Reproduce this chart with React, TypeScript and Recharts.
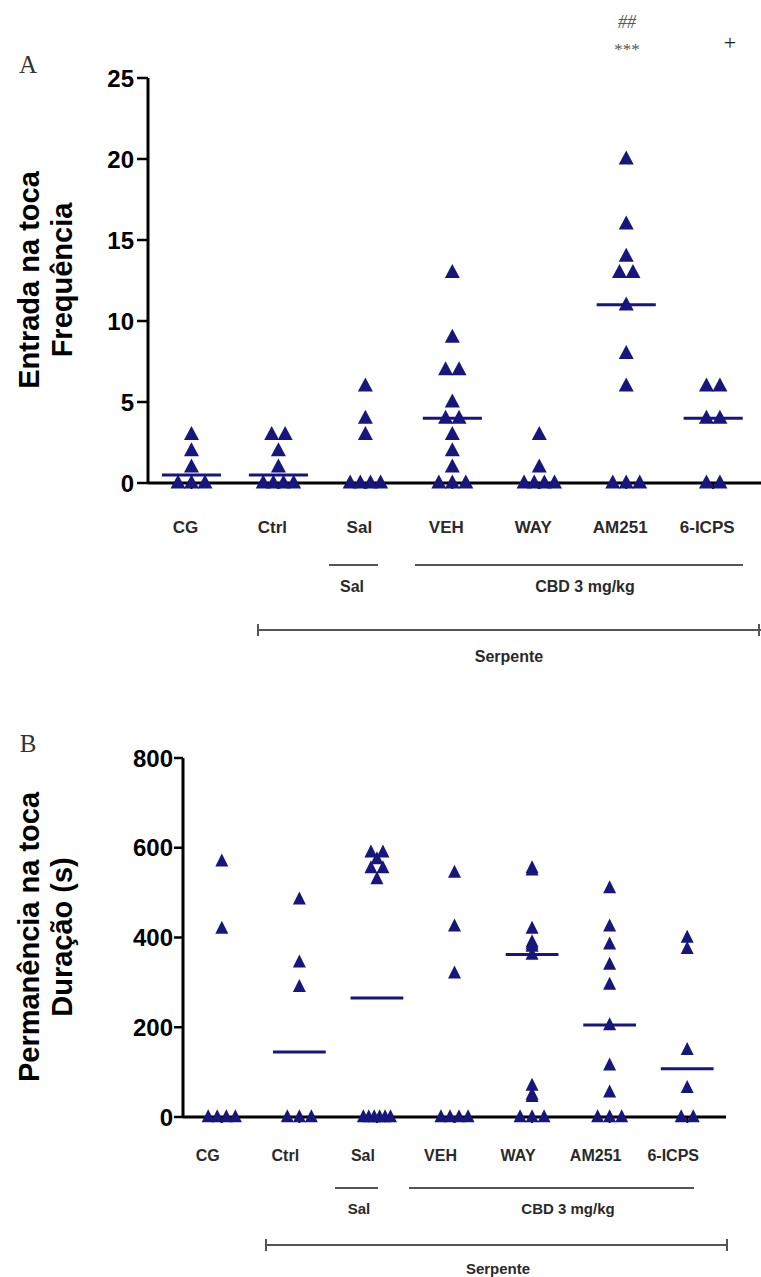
import React from "react";
import { ScatterChart, Scatter, XAxis, YAxis, ReferenceLine } from "recharts";

const groups = ["CG", "Ctrl", "Sal", "VEH", "WAY", "AM251", "6-ICPS"];

// Painel A: Entrada na toca (frequência)
const freqCG = [3, 2, 1, 0, 0, 0];
const freqCtrl = [3, 3, 2, 1, 0, 0, 0, 0];
const freqSal = [6, 4, 3, 0, 0, 0, 0];
const freqVEH = [13, 9, 7, 7, 5, 4, 4, 3, 2, 1, 0, 0, 0];
const freqWAY = [3, 1, 0, 0, 0, 0];
const freqAM251 = [20, 16, 14, 13, 13, 11, 8, 6, 0, 0, 0];
const freqICPS = [6, 6, 4, 4, 0, 0];

// Painel B: Permanência na toca (duração, s)
const durCG = [570, 420, 0, 0, 0, 0];
const durCtrl = [485, 345, 290, 0, 0, 0];
const durSal = [590, 590, 575, 555, 555, 530, 0, 0, 0, 0, 0, 0];
const durVEH = [545, 425, 320, 0, 0, 0, 0];
const durWAY = [555, 550, 420, 390, 385, 380, 362, 70, 50, 45, 0, 0, 0];
const durAM251 = [510, 425, 385, 340, 295, 205, 115, 55, 0, 0, 0];
const durICPS = [400, 375, 150, 65, 0, 0];

const ticksA = [0, 5, 10, 15, 20, 25];
const ticksB = [0, 200, 400, 600, 800];

const freq = [freqCG, freqCtrl, freqSal, freqVEH, freqWAY, freqAM251, freqICPS];
const dur = [durCG, durCtrl, durSal, durVEH, durWAY, durAM251, durICPS];

const NAVY = "#16167c";
const FONT = "'Liberation Sans', Arial, sans-serif";

function median(vals: number[]) {
  const s = [...vals].sort((a, b) => a - b);
  const m = Math.floor(s.length / 2);
  return s.length % 2 ? s[m] : (s[m - 1] + s[m]) / 2;
}

// spread identical values side by side, like a column scatter
function toPoints(sets: number[][], step: number, maxSpan: number) {
  const pts: { x: number; y: number }[] = [];
  sets.forEach((vals, gi) => {
    const counts = new Map<number, number>();
    vals.forEach((v) => counts.set(v, (counts.get(v) || 0) + 1));
    const seen = new Map<number, number>();
    vals.forEach((v) => {
      const n = counts.get(v) || 1;
      const k = seen.get(v) || 0;
      seen.set(v, k + 1);
      const s = n > 1 ? Math.min(step, maxSpan / (n - 1)) : 0;
      pts.push({ x: gi + 1 + (k - (n - 1) / 2) * s, y: v });
    });
  });
  return pts;
}

const triangle = (w: number, h: number) => (props: any) => {
  const { cx, cy } = props;
  return (
    <path
      d={`M${cx},${cy - h * 0.6} L${cx + w / 2},${cy + h * 0.4} L${cx - w / 2},${cy + h * 0.4} Z`}
      fill={NAVY}
    />
  );
};

const catTick = (dy: number, dx: number, size: number) => (props: any) => {
  const { x, y, payload } = props;
  return (
    <text
      x={x + dx}
      y={y + dy}
      textAnchor="middle"
      dominantBaseline="central"
      fontFamily={FONT}
      fontWeight="bold"
      fontSize={size}
      fill="#2a2a2a"
    >
      {groups[payload.value - 1]}
    </text>
  );
};

const catPos = [1, 2, 3, 4, 5, 6, 7];

export default function App() {
  const ptsA = toPoints(freq, 0.155, 0.35);
  const ptsB = toPoints(dur, 0.155, 0.35);
  const halfA = 0.34;
  const halfB = 0.34;

  return (
    <div style={{ position: "absolute", left: 0, top: 0, width: 761, height: 1277, background: "#fff" }}>
      <div style={{ position: "absolute", left: 0, top: 0 }}>
        <ScatterChart width={761} height={560} margin={{ top: 78, right: 0, bottom: 0, left: 0 }}>
          <XAxis
            type="number"
            dataKey="x"
            domain={[0.5, 7.55]}
            ticks={catPos}
            interval={0}
            height={77}
            axisLine={{ stroke: "#000", strokeWidth: 3 }}
            tickLine={{ stroke: "#000", strokeWidth: 2 }}
            tickSize={6}
            tick={catTick(36, -6, 17)}
          />
          <YAxis
            type="number"
            dataKey="y"
            domain={[0, 25]}
            ticks={ticksA}
            interval={0}
            width={148}
            axisLine={{ stroke: "#000", strokeWidth: 3 }}
            tickLine={{ stroke: "#000", strokeWidth: 2.5 }}
            tickSize={11}
            tickMargin={3}
            tick={{ fontSize: 24, fontWeight: "bold", fill: "#000", fontFamily: FONT }}
          />
          {freq.map((vals, i) => {
            const m = median(vals);
            return m > 0 ? (
              <ReferenceLine
                key={i}
                segment={[{ x: i + 1 - halfA, y: m }, { x: i + 1 + halfA, y: m }]}
                stroke={NAVY}
                strokeWidth={3}
              />
            ) : null;
          })}
          <Scatter data={ptsA} shape={triangle(15, 14)} isAnimationActive={false} />
        </ScatterChart>
      </div>

      <div style={{ position: "absolute", left: 0, top: 700 }}>
        <ScatterChart width={761} height={480} margin={{ top: 58, right: 35, bottom: 0, left: 0 }}>
          <XAxis
            type="number"
            dataKey="x"
            domain={[0.5, 7.5]}
            ticks={catPos}
            interval={0}
            height={63}
            axisLine={{ stroke: "#000", strokeWidth: 3 }}
            tickLine={{ stroke: "#000", strokeWidth: 2 }}
            tickSize={6}
            tick={catTick(30, -14, 16)}
          />
          <YAxis
            type="number"
            dataKey="y"
            domain={[0, 800]}
            ticks={ticksB}
            interval={0}
            width={183}
            axisLine={{ stroke: "#000", strokeWidth: 3 }}
            tickLine={{ stroke: "#000", strokeWidth: 2.5 }}
            tickSize={9}
            tickMargin={1}
            tick={{ fontSize: 24, fontWeight: "bold", fill: "#000", fontFamily: FONT }}
          />
          {dur.map((vals, i) => {
            const m = median(vals);
            return m > 0 ? (
              <ReferenceLine
                key={i}
                segment={[{ x: i + 1 - halfB, y: m }, { x: i + 1 + halfB, y: m }]}
                stroke={NAVY}
                strokeWidth={3}
              />
            ) : null;
          })}
          <Scatter data={ptsB} shape={triangle(13, 13)} isAnimationActive={false} />
        </ScatterChart>
      </div>

      <svg width={761} height={1277} style={{ position: "absolute", left: 0, top: 0, pointerEvents: "none" }}>
        {/* panel letters */}
        <text x={28} y={73} textAnchor="middle" fontFamily="'Liberation Serif', serif" fontSize={25} fill="#333">A</text>
        <text x={28} y={752} textAnchor="middle" fontFamily="'Liberation Serif', serif" fontSize={25} fill="#333">B</text>

        {/* y titles */}
        <g fontFamily={FONT} fontWeight="bold" fontSize={29} fill="#000" textAnchor="middle" dominantBaseline="central">
          <text x={29} y={280} transform="rotate(-90 29 280)">Entrada na toca</text>
          <text x={62} y={280} transform="rotate(-90 62 280)">Frequência</text>
          <text x={29} y={937} transform="rotate(-90 29 937)">Permanência na toca</text>
          <text x={62} y={937} transform="rotate(-90 62 937)">Duração (s)</text>
        </g>

        {/* significance marks */}
        <text x={627} y={28} textAnchor="middle" fontFamily="'Liberation Serif', serif" fontStyle="italic" fontSize={18} fill="#555">##</text>
        <text x={627} y={55} textAnchor="middle" fontFamily="'Liberation Serif', serif" fontSize={17} fill="#555">***</text>
        <text x={730} y={50} textAnchor="middle" fontFamily="'Liberation Serif', serif" fontSize={22} fill="#222">+</text>

        {/* group brackets, panel A */}
        <g stroke="#555" strokeWidth={2}>
          <line x1={329} y1={565} x2={378} y2={565} />
          <line x1={415} y1={565} x2={743} y2={565} />
          <line x1={257} y1={630} x2={761} y2={630} />
          <line x1={258} y1={624} x2={258} y2={636} />
          <line x1={759} y1={624} x2={759} y2={636} />
        </g>
        <g fontFamily={FONT} fontWeight="bold" fontSize={16} fill="#2a2a2a" textAnchor="middle" dominantBaseline="central">
          <text x={352} y={586}>Sal</text>
          <text x={585} y={586}>CBD 3 mg/kg</text>
          <text x={509} y={656}>Serpente</text>
        </g>

        {/* group brackets, panel B */}
        <g stroke="#555" strokeWidth={2}>
          <line x1={335} y1={1188} x2={378} y2={1188} />
          <line x1={409} y1={1188} x2={694} y2={1188} />
          <line x1={265} y1={1245} x2={728} y2={1245} />
          <line x1={266} y1={1239} x2={266} y2={1251} />
          <line x1={727} y1={1239} x2={727} y2={1251} />
        </g>
        <g fontFamily={FONT} fontWeight="bold" fontSize={15} fill="#2a2a2a" textAnchor="middle" dominantBaseline="central">
          <text x={359} y={1208}>Sal</text>
          <text x={568} y={1208}>CBD 3 mg/kg</text>
          <text x={498} y={1268}>Serpente</text>
        </g>
      </svg>
    </div>
  );
}
